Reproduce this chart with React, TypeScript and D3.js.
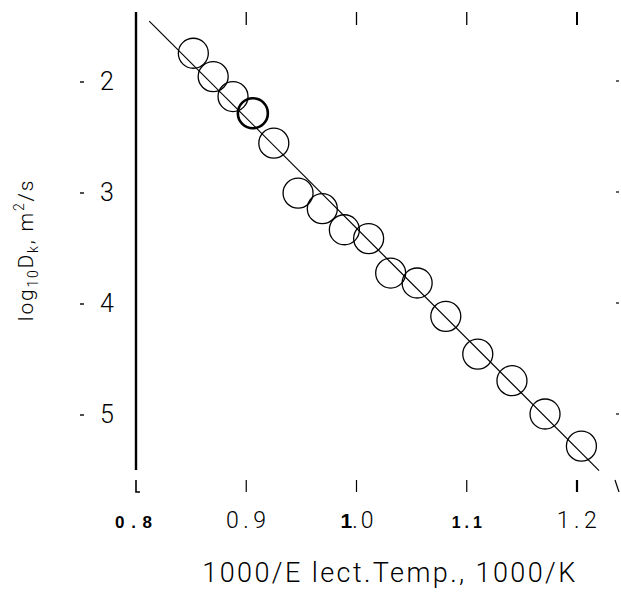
import React from "react";
import * as d3 from "d3";

// ---- data ----
const invTemp = [0.852, 0.870, 0.888, 0.906, 0.925, 0.947, 0.969, 0.989, 1.011, 1.031, 1.055, 1.081, 1.110, 1.141, 1.171, 1.204];
const logD = [-1.75, -1.96, -2.14, -2.29, -2.56, -3.01, -3.15, -3.34, -3.42, -3.73, -3.82, -4.12, -4.46, -4.70, -5.00, -5.29];
const boldPoint = [false, false, false, true, false, false, false, false, false, false, false, false, false, false, false, false];
const fitX = [0.812, 1.22];
const fitY = [-1.46, -5.51];
const xTicks = [0.8, 0.9, 1.0, 1.1, 1.2];
const yTicks = [-2, -3, -4, -5];
const yTickLabels = ["2", "3", "4", "5"];

const W = 621;
const H = 594;
const LIGHT = "Roboto, 'Open Sans', 'DejaVu Sans', sans-serif";
const BOLD = "'Liberation Sans', Arial, sans-serif";

export default function App() {
  const x = d3.scaleLinear().domain([0.8, 1.2]).range([136, 577]);
  const y = d3.scaleLinear().domain([-2, -5]).range([81, 414]);
  const line = d3
    .line<number>()
    .x((d) => x(d))
    .y((_, i) => y(fitY[i]));

  const axisTop = 12;
  const axisBottom = 470;
  const tickTop0 = 12, tickTop1 = 25;
  const tickBot0 = 480, tickBot1 = 492;
  const labelY = 528;

  return (
    <svg
      width={W}
      height={H}
      style={{ position: "absolute", left: 0, top: 0, background: "#fff" }}
    >
      <rect x={0} y={0} width={W} height={H} fill="#fff" />
      {/* left axis line */}
      <line x1={x(0.8)} x2={x(0.8)} y1={axisTop} y2={axisBottom} stroke="#000" strokeWidth={2.4} />
      {/* bottom 0.8 tick with foot */}
      <path
        d={`M${x(0.8)},${tickBot0} L${x(0.8)},${tickBot1} L${x(0.8) + 4},${tickBot1}`}
        fill="none"
        stroke="#000"
        strokeWidth={1.6}
      />
      {/* top and bottom ticks */}
      {xTicks.slice(1).map((t, i) => (
        <g key={"xt" + t}>
          <line x1={x(t)} x2={x(t)} y1={tickTop0} y2={tickTop1} stroke="#000" strokeWidth={i === 3 ? 2 : 1.3} />
          <line x1={x(t)} x2={x(t)} y1={tickBot0} y2={tickBot1} stroke="#000" strokeWidth={i === 3 ? 2.2 : 1.2} />
        </g>
      ))}
      {/* stray mark at right bottom */}
      <line x1={615} x2={619} y1={tickBot0} y2={tickBot1} stroke="#000" strokeWidth={1.2} />
      {/* right-side y ticks */}
      {yTicks.map((t) => (
        <line key={"ry" + t} x1={616} x2={619} y1={y(t)} y2={y(t)} stroke="#000" strokeWidth={1.2} />
      ))}
      {/* y tick labels */}
      {yTicks.map((t, i) => (
        <g key={"yl" + t}>
          <line x1={80} x2={84} y1={y(t) + 1} y2={y(t) + 1} stroke="#000" strokeWidth={1.4} />
          <text
            x={107}
            y={y(t) + 9}
            textAnchor="middle"
            fontFamily={LIGHT}
            fontWeight={300}
            fontSize={25}
            fill="#000"
          >
            {yTickLabels[i]}
          </text>
        </g>
      ))}
      {/* x tick labels */}
      <text x={x(0.8) - 2} y={labelY} textAnchor="middle" fontFamily={BOLD} fontWeight={700} fontSize={17} letterSpacing={1} fill="#000">
        0 . 8
      </text>
      <text x={x(0.9) + 2} y={labelY} textAnchor="middle" fontFamily={LIGHT} fontWeight={300} fontSize={23} letterSpacing={4.5} fill="#000">
        0.9
      </text>
      <text x={x(1.0) + 2} y={labelY} textAnchor="middle" fill="#000">
        <tspan fontFamily={BOLD} fontWeight={700} fontSize={21}>1</tspan>
        <tspan fontFamily={LIGHT} fontWeight={300} fontSize={23} letterSpacing={3}>.0</tspan>
      </text>
      <text x={x(1.1) + 2} y={labelY} textAnchor="middle" fontFamily={BOLD} fontWeight={700} fontSize={16} letterSpacing={4} fill="#000">
        1.1
      </text>
      <text x={x(1.2) + 2} y={labelY} textAnchor="middle" fontFamily={LIGHT} fontWeight={300} fontSize={23} letterSpacing={4.5} fill="#000">
        1.2
      </text>
      {/* x axis title */}
      <text
        x={390}
        y={582}
        textAnchor="middle"
        fontFamily={LIGHT}
        fontWeight={300}
        fontSize={27}
        letterSpacing={2.4}
        fill="#000"
      >
        1000/E lect.Temp., 1000/K
      </text>
      {/* y axis title */}
      <text
        transform="translate(33,250) rotate(-90)"
        textAnchor="middle"
        fontFamily={LIGHT}
        fontWeight={300}
        fontSize={21}
        letterSpacing={1.8}
        fill="#000"
      >
        log
        <tspan fontSize={14} dy={5}>10</tspan>
        <tspan dy={-5}>D</tspan>
        <tspan fontSize={14} dy={5}>k</tspan>
        <tspan dy={-5}>, m</tspan>
        <tspan fontSize={14} dy={-9}>2</tspan>
        <tspan dy={9}>/s</tspan>
      </text>
      {/* fit line */}
      <path d={line(fitX) || ""} fill="none" stroke="#000" strokeWidth={1.2} />
      {/* data circles */}
      {invTemp.map((v, i) => (
        <circle
          key={"c" + i}
          cx={x(v)}
          cy={y(logD[i])}
          r={15}
          fill="none"
          stroke="#000"
          strokeWidth={boldPoint[i] ? 2.6 : 1.3}
        />
      ))}
    </svg>
  );
}
